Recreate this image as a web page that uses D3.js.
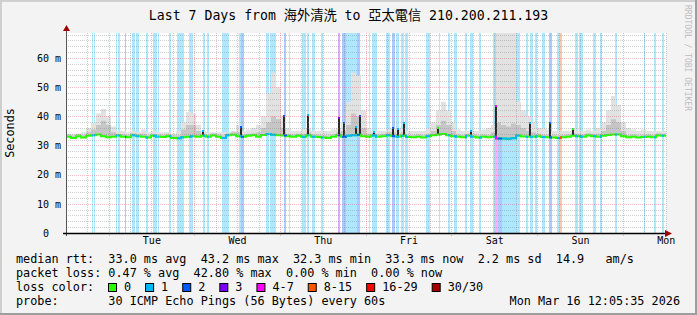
<!DOCTYPE html>
<html>
<head>
<meta charset="utf-8">
<script src="https://cdn.jsdelivr.net/npm/d3@7"></script>
<style>
  body { margin: 0; background: #f3f3f3; }
  svg { display: block; }
  text { font-family: "DejaVu Sans Mono", "Noto Sans CJK TC", monospace; fill: #000; white-space: pre; }
</style>
</head>
<body>
<svg id="chart" width="697" height="315"></svg>
<script>
// one sample every 1.4 h over the week (ms)
const sampleHours = 1.4;
const medianRtt = [
  33.0, 32.6, 33.2, 32.7, 33.3, 33.5, 33.8, 33.2, 32.8, 33.0,
  33.4, 33.0, 32.8, 33.5, 33.2, 33.0, 32.7, 33.3, 33.0, 32.9,
  33.2, 32.6, 32.5, 32.8, 33.0, 33.2, 33.0, 33.3, 33.0, 33.4,
  33.0, 32.6, 33.5, 33.7, 33.2, 33.0, 33.3, 33.5, 33.0, 33.6,
  33.9, 33.7, 33.5, 33.4, 33.2, 33.0, 33.3, 33.0, 33.5, 33.0,
  32.9, 32.7, 32.6, 33.0, 33.5, 33.0, 33.3, 33.5, 33.7, 33.2,
  33.0, 33.4, 33.0, 33.2, 33.5, 33.2, 33.0, 33.3, 32.9, 32.8,
  33.0, 32.7, 33.2, 33.5, 33.8, 33.9, 33.5, 33.2, 33.0, 32.8,
  33.3, 33.0, 32.7, 33.0, 32.8, 33.0, 32.4, 32.4, 32.3, 32.5,
  33.4, 33.1, 33.0, 33.0, 33.2, 32.9, 32.8, 32.7, 32.6, 32.8,
  33.0, 33.3, 33.2, 33.0, 33.4, 33.2, 33.0, 33.3, 33.6, 33.8,
  33.8, 33.2, 32.8, 33.0, 32.7, 32.9, 33.0, 32.8, 33.4, 33.3
];
// highest pings (light smoke)
const smokeHigh = [
  34.0, 34.0, 34.0, 34.5, 36.0, 38.0, 41.0, 42.5, 40.0, 36.5,
  35.0, 35.0, 34.5, 35.0, 34.5, 35.5, 34.5, 35.0, 34.5, 34.5,
  34.5, 34.0, 35.0, 38.0, 41.5, 41.0, 37.0, 35.0, 34.5, 34.5,
  34.5, 34.5, 34.5, 35.0, 37.0, 35.0, 35.5, 36.0, 37.0, 40.0,
  48.0, 55.0, 50.0, 40.0, 36.0, 35.0, 35.0, 35.5, 36.0, 35.0,
  35.0, 35.0, 35.0, 35.5, 36.0, 38.0, 45.0, 55.0, 54.0, 42.0,
  36.0, 35.0, 35.0, 35.0, 35.5, 36.0, 36.0, 36.0, 35.0, 35.0,
  35.0, 35.0, 36.0, 38.0, 42.0, 45.0, 42.0, 38.0, 35.5, 35.0,
  35.0, 35.0, 35.0, 35.5, 36.0, 37.0, 70.0, 70.0, 70.0, 70.0,
  45.0, 42.0, 40.0, 38.0, 36.0, 36.0, 35.5, 35.0, 35.0, 35.0,
  35.0, 36.0, 35.0, 35.0, 35.5, 35.0, 36.0, 38.0, 42.0, 47.0,
  44.0, 38.0, 36.0, 35.5, 35.0, 35.5, 35.0, 35.0, 35.0, 35.0
];
// dense part of the smoke (darker)
const smokeCore = [
  33.8, 33.4, 34.0, 33.5, 34.5, 35.5, 37.0, 38.5, 37.0, 34.5,
  34.0, 33.8, 33.6, 34.2, 34.0, 34.0, 33.5, 34.0, 33.8, 33.7,
  34.0, 33.4, 33.5, 35.5, 37.0, 37.0, 35.0, 34.0, 33.8, 34.2,
  33.8, 33.4, 34.2, 34.5, 34.5, 33.8, 34.0, 34.2, 34.5, 36.0,
  38.0, 40.0, 39.0, 36.0, 34.0, 33.8, 34.0, 34.0, 34.5, 33.8,
  33.7, 33.5, 33.4, 33.8, 34.5, 35.0, 37.0, 41.0, 40.0, 36.0,
  34.0, 34.2, 33.8, 34.0, 34.5, 34.5, 34.0, 34.5, 33.7, 33.6,
  33.8, 33.5, 34.0, 35.0, 37.0, 38.5, 37.0, 35.0, 33.8, 33.6,
  34.0, 33.8, 33.5, 33.8, 33.6, 34.5, 38.0, 37.0, 36.5, 37.5,
  37.0, 36.0, 35.0, 34.5, 34.0, 33.7, 33.6, 33.5, 33.4, 33.6,
  33.8, 34.2, 34.0, 33.8, 34.2, 34.0, 34.0, 35.0, 37.0, 39.0,
  38.0, 35.0, 33.6, 33.8, 33.5, 33.7, 33.8, 33.6, 34.2, 34.0
];
// packet loss periods: [start hour, end hour, loss class]
const lossBands = [
  [7.28, 7.56, 1], [7.84, 8.12, 1], [14.0, 14.28, 1], [14.56, 15.12, 1], [16.52, 16.8, 2],
  [18.48, 19.32, 1], [19.6, 20.44, 1], [22.4, 22.96, 1], [24.36, 25.48, 1], [25.76, 26.04, 1],
  [28.84, 29.4, 1], [31.08, 33.04, 1], [34.44, 35.56, 1], [38.36, 38.92, 1], [39.48, 40.04, 1],
  [43.68, 45.64, 1], [48.44, 49.0, 1], [49.0, 49.84, 2], [56.0, 56.84, 1], [57.12, 58.8, 1],
  [61.04, 61.6, 2], [62.44, 62.72, 1], [66.08, 67.2, 1], [67.48, 68.04, 1], [68.88, 69.72, 1],
  [71.4, 71.96, 1], [76.16, 76.72, 3], [77.28, 78.4, 2], [78.4, 81.48, 1], [81.48, 82.32, 2],
  [84.84, 85.12, 1], [85.68, 87.08, 1], [89.6, 90.72, 1], [91.28, 92.12, 2], [92.4, 93.24, 1],
  [93.8, 94.64, 1], [94.92, 95.76, 1], [100.8, 101.92, 1], [104.44, 104.72, 1], [106.96, 107.52, 1],
  [108.64, 109.48, 1], [111.72, 112.28, 1], [113.12, 113.96, 1], [115.64, 116.2, 1], [119.56, 120.12, 1],
  [120.12, 120.96, 4], [120.96, 122.08, 2], [122.08, 127.12, 1], [128.8, 129.36, 1], [129.92, 130.76, 1],
  [131.32, 131.88, 1], [133.28, 134.12, 1], [135.24, 136.08, 2], [137.48, 138.04, 1], [138.04, 138.88, 5],
  [142.52, 143.36, 1], [143.64, 144.76, 1], [147.56, 148.4, 1], [149.52, 150.08, 1], [153.72, 154.28, 1],
  [161.84, 162.12, 1], [164.64, 165.2, 1], [166.88, 167.44, 1]
];
// short median jumps
const spikeHours = [38.4, 49.1, 61.1, 67.8, 76.3, 77.8, 81.2, 82.2, 86.2, 91.6, 93.0, 94.5, 104.2, 113.4, 120.4, 130.0, 135.4, 142.0];
const spikeTops = [35.0, 36.4, 40.0, 40.4, 39.4, 37.8, 36.4, 40.0, 34.7, 36.0, 35.5, 37.8, 36.0, 34.8, 43.4, 37.8, 37.8, 35.6];

const yTicks = [0, 10, 20, 30, 40, 50, 60];
const lossLabels = ["0", "1", "2", "3", "4-7", "8-15", "16-29", "30/30"];
const lossColors = ["#26ff00", "#00b8ff", "#0059ff", "#7e00ff", "#ff00fe", "#ff5500", "#ff0000", "#a10000"];
const rttStats = ["33.0 ms avg", "43.2 ms max", "32.3 ms min", "33.3 ms now", "2.2 ms sd", "14.9   am/s"];
const lossStats = ["0.47 % avg", "42.80 % max", "0.00 % min", "0.00 % now"];
const probeText = "30 ICMP Echo Pings (56 Bytes) every 60s";
const stampText = "Mon Mar 16 12:05:35 2026";
const titleText = "Last 7 Days from 海外清洗 to 亞太電信 210.200.211.193";

const W = 697, H = 315;
const plot = { left: 66, right: 666, top: 33, bottom: 233 };
const endTime = new Date(2026, 2, 16, 12, 5, 35);
const startTime = d3.timeDay.offset(endTime, -7);
const at = h => new Date(startTime.getTime() + h * 3600e3);

const x = d3.scaleTime().domain([startTime, endTime]).range([plot.left, plot.right]);
const y = d3.scaleLinear().domain([0, 68.57]).range([plot.bottom, plot.top]);

const svg = d3.select("#chart");

// background and 3d frame
svg.append("rect").attr("width", W).attr("height", H).attr("fill", "#f3f3f3");
svg.append("rect").attr("width", 2).attr("height", H).attr("fill", "#cfcfcf");
svg.append("rect").attr("width", W).attr("height", 2).attr("fill", "#cfcfcf");
svg.append("rect").attr("x", W - 2).attr("width", 2).attr("height", H).attr("fill", "#9e9e9e");
svg.append("rect").attr("y", H - 2).attr("width", W).attr("height", 2).attr("fill", "#9e9e9e");

svg.append("defs").append("clipPath").attr("id", "plotclip")
  .append("rect").attr("x", plot.left).attr("y", plot.top)
  .attr("width", plot.right - plot.left).attr("height", plot.bottom - plot.top);

svg.append("rect").attr("x", plot.left).attr("y", plot.top)
  .attr("width", plot.right - plot.left).attr("height", plot.bottom - plot.top)
  .attr("fill", "#fff");

const g = svg.append("g").attr("clip-path", "url(#plotclip)");

// loss background bars
g.append("g").attr("shape-rendering", "crispEdges")
  .selectAll("rect").data(lossBands).join("rect")
  .attr("x", d => Math.round(x(at(d[0]))))
  .attr("width", d => Math.max(1, Math.round(x(at(d[1]))) - Math.round(x(at(d[0])))))
  .attr("y", plot.top).attr("height", plot.bottom - plot.top)
  .attr("fill", d => lossColors[d[2]]).attr("fill-opacity", 0.32);

// smoke
const pts = medianRtt.map((m, i) => ({ h: i * sampleHours, m, hi: smokeHigh[i], core: smokeCore[i] }));
pts.push(Object.assign({}, pts[pts.length - 1], { h: 168 }));

const areaHi = d3.area().curve(d3.curveStepAfter)
  .x(d => x(at(d.h))).y0(d => y(d.m)).y1(d => y(Math.max(d.m, d.hi)));
const areaCore = d3.area().curve(d3.curveStepAfter)
  .x(d => x(at(d.h))).y0(d => y(d.m)).y1(d => y(Math.max(d.m, d.core)));
g.append("path").attr("d", areaHi(pts)).attr("fill", "#e2e2e2");
g.append("path").attr("d", areaCore(pts)).attr("fill", "#c6c6c6");

// grid
const grid = svg.append("g").attr("shape-rendering", "crispEdges").attr("stroke-dasharray", "1,1");
const yMinor = d3.range(2, 68.57, 2).filter(v => v % 10 !== 0);
grid.selectAll(".hmin").data(yMinor).join("line")
  .attr("x1", plot.left).attr("x2", plot.right)
  .attr("y1", d => Math.round(y(d)) + 0.5).attr("y2", d => Math.round(y(d)) + 0.5)
  .attr("stroke", "rgba(128,128,128,0.38)");
const xMinor = d3.timeHour.every(6).range(startTime, endTime).filter(d => d.getHours() !== 0);
grid.selectAll(".vmin").data(xMinor).join("line")
  .attr("x1", d => Math.round(x(d)) + 0.5).attr("x2", d => Math.round(x(d)) + 0.5)
  .attr("y1", plot.top).attr("y2", plot.bottom + 2)
  .attr("stroke", "rgba(128,128,128,0.38)");
grid.selectAll(".hmaj").data(yTicks.slice(1)).join("line")
  .attr("x1", plot.left).attr("x2", plot.right)
  .attr("y1", d => Math.round(y(d)) + 0.5).attr("y2", d => Math.round(y(d)) + 0.5)
  .attr("stroke", "rgba(225,80,80,0.38)");
const xMajor = d3.timeDay.range(startTime, endTime);
grid.selectAll(".vmaj").data(xMajor).join("line")
  .attr("x1", d => Math.round(x(d)) + 0.5).attr("x2", d => Math.round(x(d)) + 0.5)
  .attr("y1", plot.top).attr("y2", plot.bottom + 3)
  .attr("stroke", "rgba(225,80,80,0.42)");

// helpers
const medianAt = h => medianRtt[Math.max(0, Math.min(medianRtt.length - 1, Math.floor(h / sampleHours)))];
const lossAt = h => { const b = lossBands.find(d => h >= d[0] && h < d[1]); return b ? b[2] : 0; };

// dark spikes with coloured caps
const spikes = spikeHours.map((h, i) => ({ h, top: spikeTops[i] }));
const sp = g.append("g").attr("shape-rendering", "crispEdges");
sp.selectAll(".col").data(spikes).join("rect")
  .attr("x", d => Math.round(x(at(d.h))) - 1).attr("width", 2)
  .attr("y", d => y(d.top)).attr("height", d => y(medianAt(d.h)) - y(d.top))
  .attr("fill", "#2a2a2a");
sp.selectAll(".cap").data(spikes).join("rect")
  .attr("x", d => Math.round(x(at(d.h))) - 1).attr("width", 2)
  .attr("y", d => y(d.top) - 1).attr("height", 2)
  .attr("fill", d => lossColors[lossAt(d.h)]);

// median line
const line = d3.line().curve(d3.curveStepAfter).x(d => x(at(d.h))).y(d => y(d.m));
g.append("path").attr("d", line(pts)).attr("fill", "none")
  .attr("stroke", lossColors[0]).attr("stroke-width", 2);
lossBands.forEach(b => {
  const seg = [{ h: b[0], m: medianAt(b[0]) }];
  for (let k = Math.floor(b[0] / sampleHours) + 1; k * sampleHours < b[1]; k++) {
    seg.push({ h: k * sampleHours, m: medianAt(k * sampleHours) });
  }
  seg.push({ h: b[1], m: medianAt(b[1] - 1e-6) });
  g.append("path").attr("d", line(seg)).attr("fill", "none")
    .attr("stroke", lossColors[b[2]]).attr("stroke-width", 2);
});

// axes lines and arrows
svg.append("line").attr("x1", plot.left + 0.5).attr("x2", plot.left + 0.5)
  .attr("y1", plot.bottom + 3).attr("y2", plot.top - 3)
  .attr("stroke", "#555").attr("shape-rendering", "crispEdges");
svg.append("line").attr("x1", plot.left - 3).attr("x2", plot.right + 1)
  .attr("y1", plot.bottom + 0.5).attr("y2", plot.bottom + 0.5)
  .attr("stroke", "#000").attr("stroke-width", 1.5);
svg.append("path").attr("d", `M${plot.left - 3},${plot.top - 2} L${plot.left + 4},${plot.top - 2} L${plot.left + 0.5},${plot.top - 8} Z`)
  .attr("fill", "#a00000");
svg.append("path").attr("d", `M${plot.right - 1},${plot.bottom - 3} L${plot.right - 1},${plot.bottom + 4} L${plot.right + 6},${plot.bottom + 0.5} Z`)
  .attr("fill", "#a00000");

// axis labels
const yAxis = d3.axisLeft(y).tickValues(yTicks).tickSize(0).tickPadding(0)
  .tickFormat(d => d === 0 ? "0  " : d + " m");
svg.append("g").attr("transform", "translate(61,0)").call(yAxis)
  .call(a => a.select(".domain").remove())
  .selectAll("text").attr("font-size", 10).attr("xml:space", "preserve")
  .attr("font-family", "DejaVu Sans Mono").attr("fill", "#000");

const noons = xMajor.map(d => d3.timeHour.offset(d, 12)).filter(d => d <= endTime);
const xAxis = d3.axisBottom(x).tickValues(noons).tickFormat(d3.timeFormat("%a")).tickSize(0).tickPadding(4);
svg.append("g").attr("transform", `translate(0,${plot.bottom})`).call(xAxis)
  .call(a => a.select(".domain").remove())
  .selectAll("text").attr("font-size", 10).attr("font-family", "DejaVu Sans Mono").attr("fill", "#000");

// titles
svg.append("text").attr("x", W / 2).attr("y", 20).attr("text-anchor", "middle")
  .attr("font-size", 13.2).text(titleText);
svg.append("text").attr("transform", "translate(14,133) rotate(-90)").attr("text-anchor", "middle")
  .attr("font-size", 11.8).text("Seconds");
svg.append("text").attr("transform", "translate(685,5) rotate(90)")
  .attr("font-size", 8).style("fill", "#bdbdbd").text("RRDTOOL / TOBI OETIKER");

// legend
const lg = svg.append("g").attr("font-size", 11.8);
const row = (yy, s) => lg.append("text").attr("xml:space", "preserve").attr("x", 16).attr("y", yy).text(s);
row(263, "median rtt:  " + rttStats.join("  "));
row(277, "packet loss: " + lossStats.join("  "));
row(291, "loss color:");
row(305, "probe:       " + probeText);
lg.append("text").attr("x", 680).attr("y", 305).attr("text-anchor", "end").text(stampText);

let lx = 108.5;
lossLabels.forEach((lab, i) => {
  lg.append("rect").attr("x", lx).attr("y", 283.5).attr("width", 8).attr("height", 8)
    .attr("fill", lossColors[i]).attr("stroke", "#000").attr("stroke-width", 1);
  const t = lg.append("text").attr("x", lx + 15.5).attr("y", 291).text(lab);
  lx += 15.5 + t.node().getComputedTextLength() + 14.5;
});
</script>
</body>
</html>
